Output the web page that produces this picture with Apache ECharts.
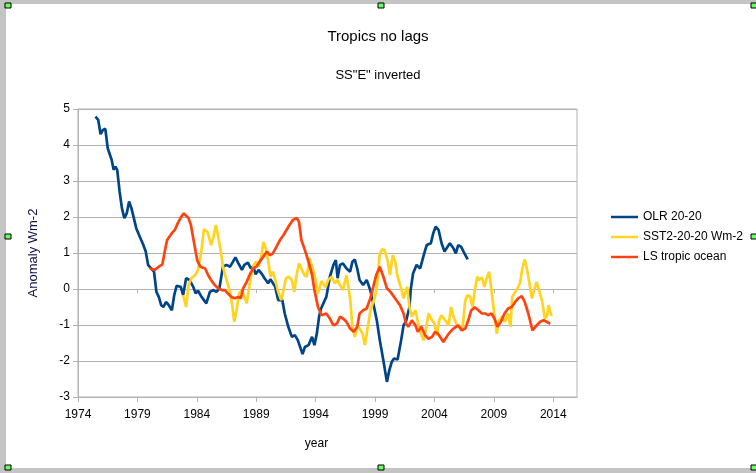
<!DOCTYPE html>
<html>
<head>
<meta charset="utf-8">
<title>Tropics no lags</title>
<script src="https://cdn.jsdelivr.net/npm/echarts@6.0.0/dist/echarts.min.js"></script>
<style>
  html, body { margin: 0; padding: 0; background: #fff; }
  #chart { width: 756px; height: 473px; }
</style>
</head>
<body>
<div id="chart"></div>
<script>
// values: [year, anomaly Wm-2]
var olr = [
  [1975.47, 4.79], [1975.70, 4.70], [1975.90, 4.30], [1976.10, 4.42], [1976.30, 4.45],
  [1976.50, 3.91], [1976.83, 3.59], [1977.00, 3.31], [1977.15, 3.40], [1977.30, 3.31],
  [1977.50, 2.71], [1977.70, 2.24], [1977.90, 1.97], [1978.10, 2.10], [1978.30, 2.43],
  [1978.50, 2.24], [1978.70, 1.97], [1978.90, 1.69], [1979.20, 1.45], [1979.50, 1.22],
  [1979.70, 1.04], [1979.90, 0.67], [1980.10, 0.59], [1980.40, 0.48], [1980.60, -0.08],
  [1980.80, -0.22], [1981.00, -0.45], [1981.20, -0.50], [1981.40, -0.36], [1981.60, -0.43],
  [1981.90, -0.59], [1982.10, -0.17], [1982.30, 0.09], [1982.65, 0.06], [1982.85, -0.17],
  [1983.10, 0.30], [1983.40, 0.25], [1983.70, 0.06], [1983.90, -0.12], [1984.10, -0.05],
  [1984.40, -0.22], [1984.80, -0.40], [1985.10, -0.08], [1985.40, -0.03], [1985.65, -0.08],
  [1985.90, 0.02], [1986.20, 0.62], [1986.50, 0.67], [1986.80, 0.62], [1987.05, 0.76],
  [1987.25, 0.88], [1987.50, 0.71], [1987.80, 0.53], [1988.00, 0.67], [1988.30, 0.73],
  [1988.55, 0.57], [1988.75, 0.62], [1988.95, 0.41], [1989.20, 0.53], [1989.45, 0.43],
  [1989.70, 0.30], [1990.00, 0.16], [1990.20, 0.27], [1990.60, 0.06], [1990.85, -0.31],
  [1991.20, -0.31], [1991.40, -0.68], [1991.70, -1.05], [1992.00, -1.33], [1992.25, -1.28],
  [1992.50, -1.42], [1992.90, -1.81], [1993.10, -1.61], [1993.40, -1.56], [1993.70, -1.33],
  [1993.90, -1.56], [1994.10, -1.24], [1994.30, -0.75], [1994.45, -0.55], [1994.90, -0.22],
  [1995.20, 0.34], [1995.50, 0.67], [1995.70, 0.80], [1995.85, 0.30], [1996.05, 0.67],
  [1996.30, 0.71], [1996.60, 0.57], [1996.90, 0.48], [1997.10, 0.76], [1997.30, 0.82],
  [1997.50, 0.57], [1997.70, 0.25], [1998.00, 0.11], [1998.30, 0.25], [1998.60, -0.03],
  [1998.85, -0.40], [1999.15, -0.87], [1999.40, -1.42], [1999.70, -1.98], [2000.00, -2.58],
  [2000.20, -2.26], [2000.40, -2.03], [2000.60, -1.93], [2000.90, -1.96], [2001.20, -1.42],
  [2001.40, -1.01], [2001.60, -0.91], [2001.90, -0.50], [2002.00, -0.03], [2002.20, 0.43],
  [2002.50, 0.67], [2002.80, 0.57], [2003.10, 0.94], [2003.35, 1.22], [2003.70, 1.27],
  [2003.90, 1.55], [2004.10, 1.73], [2004.35, 1.64], [2004.60, 1.27], [2004.85, 1.04],
  [2005.10, 1.17], [2005.30, 1.27], [2005.60, 1.13], [2005.80, 0.99], [2006.00, 1.22],
  [2006.25, 1.17], [2006.45, 1.04], [2006.60, 1.08], [2006.80, 0.82]
];

var sst2 = [
  [1982.85, -0.17], [1983.10, -0.50], [1983.30, 0.11], [1983.55, 0.30], [1983.90, 0.40],
  [1984.10, 0.53], [1984.40, 1.10], [1984.60, 1.66], [1984.90, 1.59], [1985.20, 1.22],
  [1985.40, 1.45], [1985.60, 1.78], [1985.80, 1.45], [1986.00, 1.08], [1986.20, 0.62],
  [1986.50, 0.25], [1986.80, -0.08], [1987.00, -0.50], [1987.15, -0.91], [1987.35, -0.59],
  [1987.55, -0.12], [1987.80, -0.03], [1988.00, -0.22], [1988.20, -0.40], [1988.40, 0.02],
  [1988.60, 0.43], [1988.80, 0.67], [1989.00, 0.76], [1989.20, 0.62], [1989.45, 0.94],
  [1989.60, 1.31], [1989.80, 1.13], [1990.00, 0.80], [1990.20, 0.34], [1990.40, 0.48],
  [1990.60, 0.25], [1990.85, -0.08], [1991.10, -0.31], [1991.30, -0.03], [1991.50, 0.30],
  [1991.75, 0.34], [1992.00, 0.25], [1992.20, -0.08], [1992.40, 0.39], [1992.60, 0.71],
  [1992.80, 0.57], [1993.05, 0.39], [1993.25, 0.34], [1993.50, 0.85], [1993.70, 0.62],
  [1993.90, 0.40], [1994.20, -0.12], [1994.50, 0.22], [1994.85, 0.05], [1995.05, 0.25],
  [1995.35, 0.34], [1995.60, 0.16], [1995.85, 0.25], [1996.05, 0.11], [1996.30, -0.03],
  [1996.60, 0.39], [1996.90, -0.26], [1997.10, -1.05], [1997.30, -1.33], [1997.55, -1.01],
  [1997.70, -1.10], [1997.95, -1.24], [1998.15, -1.56], [1998.35, -1.14], [1998.60, -0.63],
  [1998.80, -0.40], [1999.00, -0.22], [1999.20, 0.20], [1999.40, 0.99], [1999.60, 1.10],
  [1999.80, 1.08], [2000.05, 0.80], [2000.25, 0.39], [2000.50, 0.94], [2000.70, 0.76],
  [2000.90, 0.34], [2001.20, 0.02], [2001.40, -0.26], [2001.70, 0.06], [2001.90, -0.50],
  [2002.10, -0.77], [2002.40, -0.59], [2002.60, -0.91], [2002.80, -1.19], [2003.10, -1.42],
  [2003.30, -1.10], [2003.50, -0.68], [2003.80, -0.87], [2004.00, -0.95], [2004.20, -1.30],
  [2004.40, -0.87], [2004.60, -0.73], [2004.90, -0.87], [2005.20, -1.01], [2005.40, -0.50],
  [2005.60, -0.77], [2005.90, -1.01], [2006.20, -1.05], [2006.35, -1.15], [2006.60, -0.31],
  [2006.80, -0.17], [2007.00, -0.22], [2007.20, -0.50], [2007.40, -0.03], [2007.60, 0.34],
  [2007.75, 0.25], [2008.00, 0.32], [2008.20, 0.06], [2008.40, 0.30], [2008.60, 0.48],
  [2008.80, -0.03], [2009.05, -0.73], [2009.25, -1.24], [2009.45, -0.87], [2009.70, -0.77],
  [2009.95, -0.91], [2010.20, -0.68], [2010.40, -1.05], [2010.55, -0.22], [2010.80, -0.08],
  [2011.00, 0.02], [2011.20, 0.16], [2011.40, 0.57], [2011.60, 0.82], [2011.80, 0.53],
  [2012.00, 0.16], [2012.20, -0.26], [2012.40, -0.03], [2012.60, 0.20], [2012.80, -0.03],
  [2013.05, -0.31], [2013.30, -0.82], [2013.50, -0.73], [2013.60, -0.45], [2013.85, -0.75]
];

var lsOcean = [
  [1980.04, 0.57], [1980.46, 0.53], [1980.80, 0.62], [1981.10, 0.68], [1981.30, 1.04],
  [1981.50, 1.36], [1981.90, 1.55], [1982.15, 1.64], [1982.40, 1.83], [1982.70, 2.01],
  [1982.90, 2.10], [1983.30, 1.97], [1983.50, 1.78], [1983.70, 1.41], [1983.90, 1.04],
  [1984.05, 0.78], [1984.30, 0.62], [1984.70, 0.57], [1984.95, 0.39], [1985.20, 0.25],
  [1985.50, 0.11], [1985.80, 0.02], [1986.10, -0.03], [1986.35, -0.03], [1986.60, -0.12],
  [1986.90, -0.22], [1987.20, -0.26], [1987.50, -0.22], [1987.70, -0.26], [1987.90, 0.02],
  [1988.20, 0.20], [1988.50, 0.43], [1988.75, 0.57], [1989.00, 0.62], [1989.30, 0.76],
  [1989.60, 0.90], [1989.90, 1.04], [1990.15, 0.94], [1990.40, 0.99], [1990.70, 1.17],
  [1991.00, 1.36], [1991.30, 1.50], [1991.55, 1.64], [1991.80, 1.78], [1992.10, 1.92],
  [1992.40, 1.97], [1992.60, 1.87], [1992.80, 1.36], [1993.10, 1.08], [1993.40, 0.76],
  [1993.70, 0.39], [1993.90, -0.03], [1994.20, -0.50], [1994.50, -0.73], [1994.90, -0.68],
  [1995.20, -0.82], [1995.50, -1.01], [1995.80, -0.96], [1996.05, -0.77], [1996.30, -0.82],
  [1996.60, -0.91], [1996.90, -1.10], [1997.20, -1.19], [1997.50, -1.05], [1997.70, -0.68],
  [1998.00, -0.59], [1998.30, -0.54], [1998.60, -0.26], [1998.85, 0.06], [1999.10, 0.39],
  [1999.40, 0.62], [1999.70, 0.34], [2000.00, 0.02], [2000.30, -0.08], [2000.50, -0.17],
  [2000.80, -0.31], [2001.10, -0.45], [2001.40, -0.68], [2001.60, -0.96], [2001.80, -1.05],
  [2002.10, -0.87], [2002.40, -1.01], [2002.60, -1.19], [2002.90, -1.05], [2003.20, -1.28],
  [2003.50, -1.38], [2003.80, -1.33], [2004.05, -1.19], [2004.30, -1.24], [2004.75, -1.47],
  [2005.20, -1.24], [2005.60, -1.10], [2006.00, -1.01], [2006.30, -1.15], [2006.60, -1.10],
  [2006.85, -0.87], [2007.10, -0.59], [2007.40, -0.51], [2007.70, -0.59], [2008.00, -0.68],
  [2008.30, -0.68], [2008.50, -0.73], [2008.80, -0.68], [2009.05, -0.82], [2009.30, -1.05],
  [2009.60, -0.91], [2009.90, -0.68], [2010.20, -0.54], [2010.50, -0.50], [2010.80, -0.36],
  [2011.05, -0.26], [2011.35, -0.20], [2011.60, -0.36], [2011.90, -0.68], [2012.25, -1.15],
  [2012.50, -1.05], [2012.90, -0.91], [2013.20, -0.87], [2013.45, -0.91], [2013.75, -0.97]
];

var seriesNames = ['OLR 20-20', 'SST2-20-20 Wm-2', 'LS tropic ocean'];
var yearTicks = [1974, 1979, 1984, 1989, 1994, 1999, 2004, 2009, 2014];

var FONT = 'Liberation Sans';
var GRID_GRAY = '#b3b3b3';

// LibreOffice edit frame round the chart (grey border + green handles)
function handle(x, y) {
  return {
    type: 'rect', z: 100,
    shape: {x: x, y: y, width: 6, height: 5},
    style: {fill: '#66ff66', stroke: '#000', lineWidth: 1}
  };
}

var chart = echarts.init(document.getElementById('chart'), null, {renderer: 'canvas'});
chart.setOption({
  backgroundColor: '#fff',
  animation: false,
  textStyle: {fontFamily: FONT},
  title: [{
    text: 'Tropics no lags',
    left: 'center',
    top: 23,
    textStyle: {fontFamily: FONT, fontSize: 15, fontWeight: 'normal', color: '#000', lineHeight: 18}
  }, {
    text: 'SS"E" inverted',
    left: 'center',
    top: 62,
    textStyle: {fontFamily: FONT, fontSize: 13, fontWeight: 'normal', color: '#000', lineHeight: 16}
  }],
  legend: {
    orient: 'vertical',
    left: 611,
    top: 210,
    padding: 0,
    itemWidth: 27,
    itemHeight: 2.5,
    itemGap: 6,
    icon: 'rect',
    textStyle: {fontFamily: FONT, fontSize: 12, color: '#000', lineHeight: 14},
    data: seriesNames
  },
  grid: {
    left: 78, right: 179, top: 109, bottom: 76,
    show: true, borderColor: GRID_GRAY, borderWidth: 1,
    outerBoundsMode: 'none'
  },
  xAxis: [{
    type: 'value',
    min: 1974, max: 2016,
    position: 'bottom',
    name: 'year',
    nameLocation: 'middle',
    nameGap: 40,
    nameTextStyle: {fontFamily: FONT, fontSize: 12, color: '#000', lineHeight: 14, padding: [0, 22, 0, 0]},
    axisLine: {onZero: false, lineStyle: {color: GRID_GRAY, width: 1}},
    axisTick: {show: true, length: 5, customValues: yearTicks, lineStyle: {color: GRID_GRAY}},
    axisLabel: {
      customValues: yearTicks, margin: 11,
      fontFamily: FONT, fontSize: 12, color: '#000', lineHeight: 14,
      formatter: function (v) { return String(v); }
    },
    splitLine: {show: false}
  }, {
    // second x axis: tick marks along the zero line
    type: 'value',
    min: 1974, max: 2016,
    position: 'bottom',
    axisLine: {onZero: true, lineStyle: {color: GRID_GRAY, width: 1}},
    axisTick: {show: true, length: 4, customValues: yearTicks, lineStyle: {color: GRID_GRAY}},
    axisLabel: {show: false},
    splitLine: {show: false}
  }],
  yAxis: {
    type: 'value',
    min: -3, max: 5, interval: 1,
    name: 'Anomaly Wm-2',
    nameLocation: 'middle',
    nameRotate: 90,
    nameGap: 38,
    nameTextStyle: {fontFamily: FONT, fontSize: 13, color: '#10104a', lineHeight: 14},
    axisLine: {show: true, lineStyle: {color: GRID_GRAY, width: 1}},
    axisTick: {show: true, length: 5, lineStyle: {color: GRID_GRAY}},
    axisLabel: {margin: 8, fontFamily: FONT, fontSize: 12, color: '#000'},
    splitLine: {show: true, lineStyle: {color: GRID_GRAY, width: 1}}
  },
  series: [{
    name: seriesNames[0], type: 'line', data: olr,
    symbol: 'none', lineStyle: {color: '#004586', width: 2.7}, itemStyle: {color: '#004586'}
  }, {
    name: seriesNames[1], type: 'line', data: sst2,
    symbol: 'none', lineStyle: {color: '#ffd320', width: 2.7}, itemStyle: {color: '#ffd320'}
  }, {
    name: seriesNames[2], type: 'line', data: lsOcean,
    symbol: 'none', lineStyle: {color: '#ff420e', width: 2.7}, itemStyle: {color: '#ff420e'}
  }],
  graphic: [
    {type: 'rect', z: 90, shape: {x: 0, y: 0, width: 756, height: 4}, style: {fill: '#c4c4c4'}},
    {type: 'rect', z: 90, shape: {x: 0, y: 0, width: 6, height: 473}, style: {fill: '#c4c4c4'}},
    {type: 'rect', z: 90, shape: {x: 0, y: 468, width: 756, height: 5}, style: {fill: '#c4c4c4'}},
    handle(5, 3), handle(378, 3), handle(751, 3),
    handle(5, 234), handle(751, 234),
    handle(5, 465), handle(378, 465), handle(751, 465)
  ]
});
</script>
</body>
</html>
